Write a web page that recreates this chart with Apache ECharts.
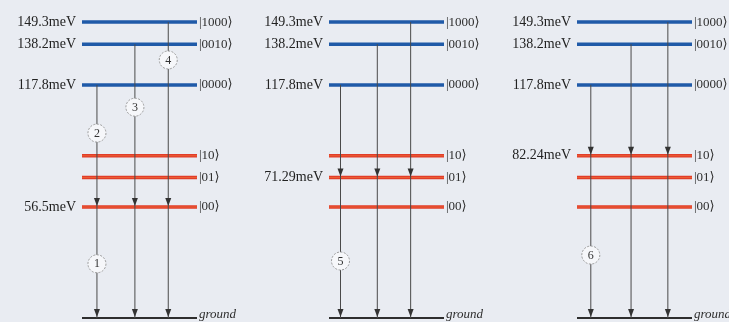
<!DOCTYPE html>
<html><head><meta charset="utf-8">
<script src="https://cdn.jsdelivr.net/npm/echarts@6/dist/echarts.min.js"></script>
<style>html,body{margin:0;padding:0;background:#e9ecf2;}#c{width:729px;height:322px;}</style>
</head><body><div id="c"></div>
<script>
// Energy levels (meV)
const levelEnergies = [149.3, 138.2, 117.8, 82.24, 71.29, 56.5, 0];
const levelStates = ['|1000\u27E9', '|0010\u27E9', '|0000\u27E9', '|10\u27E9', '|01\u27E9', '|00\u27E9', 'ground'];
const levelKinds = ['upper', 'upper', 'upper', 'lower', 'lower', 'lower', 'ground'];
// Per-panel target (lower) level receiving the transitions
const panelTargets = [56.5, 71.29, 82.24];
const panelTargetLabels = ['56.5meV', '71.29meV', '82.24meV'];
const upperLabels = ['149.3meV', '138.2meV', '117.8meV'];
// Transition sources (same in every panel)
const transitionSources = [117.8, 138.2, 149.3];
// Horizontal position of each transition within the level span (0..1)
const transitionPos = [[0.13, 0.46, 0.75], [0.10, 0.42, 0.71], [0.12, 0.47, 0.79]];
// Circled markers: panel, transition index, energy position, label
const markerPanel = [0, 0, 0, 0, 1, 2];
const markerTransition = [0, 1, 2, 0, 0, 0];
const markerEnergy = [93.6, 106.6, 130.3, 28, 29.4, 32.4];
const markerText = ['2', '3', '4', '1', '5', '6'];

const BLUE = '#1f5aa8', RED = '#e23c2a', DARK = '#2e2e2e';
const FONT = '"Liberation Serif","DejaVu Serif",serif';

const gridLefts = [82, 329, 577];
const grids = gridLefts.map(l => ({left: l, width: 115, top: 0, bottom: 2.4}));
const xAxes = grids.map((g, i) => ({gridIndex: i, type: 'value', min: 0, max: 1, show: false}));
const yAxes = grids.map((g, i) => ({gridIndex: i, type: 'value', min: 0, max: 160.4, show: false}));

const series = [];
for (let p = 0; p < 3; p++) {
  const levelData = levelEnergies.map((e, i) => [e, i]);
  series.push({
    type: 'custom', xAxisIndex: p, yAxisIndex: p, clip: false, silent: true,
    data: levelData,
    renderItem: (params, api) => {
      const e = api.value(0), i = api.value(1);
      const a = api.coord([0, e]), b = api.coord([1, e]);
      const kind = levelKinds[i];
      const children = [];
      const color = kind === 'upper' ? BLUE : kind === 'lower' ? RED : DARK;
      const y = kind === 'ground' ? a[1] - 1.5 : a[1];
      children.push({type: 'line', shape: {x1: a[0], y1: y, x2: b[0], y2: y},
        style: {stroke: color, lineWidth: kind === 'ground' ? 2 : 3.5}});
      if (kind === 'lower') {
        children.push({type: 'line', shape: {x1: a[0], y1: y, x2: b[0], y2: y},
          style: {stroke: '#f07a3a', lineWidth: 1, opacity: 0.6}});
      }
      if (kind === 'ground') {
        children.push({type: 'text', x: b[0] + 2, y: y + 3,
          style: {text: levelStates[i], fill: DARK, font: 'italic 13px ' + FONT,
            verticalAlign: 'bottom', align: 'left'}});
      } else {
        children.push({type: 'text', x: b[0] + 2, y: y,
          style: {text: levelStates[i], fill: DARK, font: '13px ' + FONT,
            verticalAlign: 'middle', align: 'left'}});
      }
      let lbl = '';
      if (kind === 'upper') lbl = upperLabels[i];
      else if (e === panelTargets[p]) lbl = panelTargetLabels[p];
      if (lbl) {
        children.push({type: 'text', x: a[0] - 6, y: y,
          style: {text: lbl, fill: '#222', font: '14px ' + FONT, verticalAlign: 'middle', align: 'right'}});
      }
      return {type: 'group', children};
    }
  });
  const trData = transitionSources.map((s, k) => [transitionPos[p][k], s, panelTargets[p]]);
  series.push({
    type: 'custom', xAxisIndex: p, yAxisIndex: p, clip: false, silent: true, z: 3,
    data: trData,
    renderItem: (params, api) => {
      const x = api.value(0), s = api.value(1), t = api.value(2);
      const top = api.coord([x, s]), mid = api.coord([x, t]), bot = api.coord([x, 0]);
      bot[1] -= 1.5;
      const children = [];
      children.push({type: 'line', shape: {x1: top[0], y1: top[1], x2: top[0], y2: bot[1]},
        style: {stroke: '#4a4a4a', lineWidth: 1}});
      [mid, bot].forEach(pt => {
        children.push({type: 'polygon', shape: {points: [[pt[0] - 3, pt[1] - 9], [pt[0] + 3, pt[1] - 9], [pt[0], pt[1] - 1]]},
          style: {fill: '#333'}});
      });
      return {type: 'group', children};
    }
  });
  const mData = [];
  markerPanel.forEach((mp, j) => {
    if (mp === p) mData.push([transitionPos[p][markerTransition[j]], markerEnergy[j], j]);
  });
  series.push({
    type: 'custom', xAxisIndex: p, yAxisIndex: p, clip: false, silent: true, z: 4,
    data: mData,
    renderItem: (params, api) => {
      const c = api.coord([api.value(0), api.value(1)]);
      const j = api.value(2);
      return {type: 'group', children: [
        {type: 'circle', shape: {cx: c[0], cy: c[1], r: 9},
          style: {fill: '#f6f7fa', stroke: '#9a9a9a', lineWidth: 1, lineDash: [2, 1.5]}},
        {type: 'text', x: c[0], y: c[1] + 0.5,
          style: {text: markerText[j], fill: '#333', font: '12px ' + FONT, align: 'center', verticalAlign: 'middle'}}
      ]};
    }
  });
}

const chart = echarts.init(document.getElementById('c'));
chart.setOption({
  backgroundColor: '#e9ecf2',
  animation: false,
  grid: grids, xAxis: xAxes, yAxis: yAxes, series
});
</script></body></html>
